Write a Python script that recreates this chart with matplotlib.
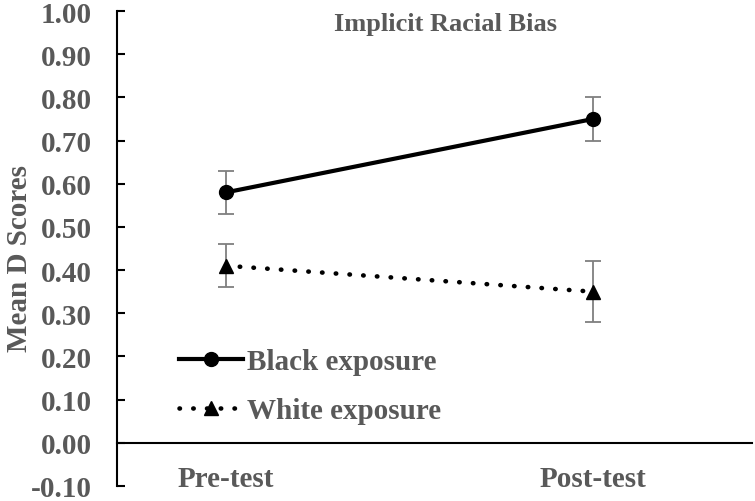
import matplotlib
matplotlib.use("Agg")
import matplotlib.pyplot as plt

phases = ["Pre-test", "Post-test"]
black_means = [0.58, 0.75]
black_err = [0.05, 0.05]
white_means = [0.41, 0.35]
white_err = [0.05, 0.07]
y_ticks = [-0.10, 0.00, 0.10, 0.20, 0.30, 0.40, 0.50, 0.60, 0.70, 0.80, 0.90, 1.00]

plt.rcParams['font.family'] = ['Liberation Serif', 'DejaVu Serif']
plt.rcParams['font.weight'] = 'bold'
text_col = '#595959'
err_col = '#7f7f7f'

fig = plt.figure(figsize=(7.55, 5.02), dpi=100)
ax = fig.add_axes([0.155, 0.03, 0.841, 0.946])

x = range(len(phases))
eb1 = ax.errorbar(x, black_means, yerr=black_err, color='black', lw=3, marker='o',
                  markersize=10, ecolor=err_col, elinewidth=1.3, capsize=6, capthick=1.3,
                  zorder=3)
eb2 = ax.errorbar(x, white_means, yerr=white_err, color='black', lw=3.3,
                  linestyle=(0, (0.1, 2.9)), dash_capstyle='round', marker='^',
                  markersize=10, ecolor=err_col, elinewidth=1.3, capsize=6, capthick=1.3,
                  zorder=3)

ax.set_xlim(-0.297, 1.433)
ax.set_ylim(-0.10, 1.00)
ax.set_yticks(y_ticks)
ax.set_yticklabels(["%.2f" % v for v in y_ticks])
ax.set_xticks(list(x))
ax.set_xticklabels(phases)

ax.spines['top'].set_visible(False)
ax.spines['right'].set_visible(False)
ax.spines['bottom'].set_position(('data', 0))
ax.spines['left'].set_linewidth(1.5)
ax.spines['bottom'].set_linewidth(1.5)

ax.tick_params(axis='y', direction='in', length=6, width=1.5, pad=18,
               labelsize=21, labelcolor=text_col)
ax.tick_params(axis='x', length=0, pad=16, labelsize=21, labelcolor=text_col)

ax.set_ylabel("Mean D Scores", fontsize=21, fontweight='bold', color=text_col)
ax.yaxis.set_label_coords(-0.133, 0.48)

ax.text(0.517, 0.997, "Implicit Racial Bias", transform=ax.transAxes,
        ha='center', va='top', fontsize=19, color=text_col)

leg = ax.legend([eb1.lines[0], eb2.lines[0]], ["Black exposure", "White exposure"],
                loc='upper left', bbox_to_anchor=(0.097, 0.29), frameon=False,
                fontsize=21, handlelength=2.2, handletextpad=0.15,
                labelspacing=0.75, borderpad=0, borderaxespad=0, numpoints=1)
for t in leg.get_texts():
    t.set_color(text_col)

fig.savefig("out.png", dpi=100)
